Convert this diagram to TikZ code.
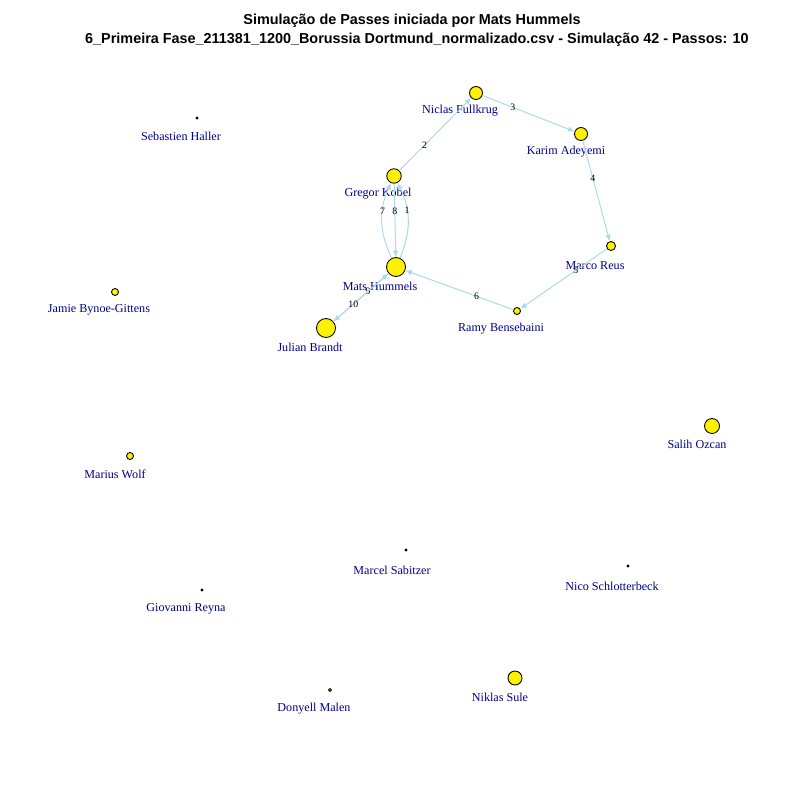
\documentclass[tikz,border=0pt]{standalone}
\usepackage{fontspec}
\setmainfont{Liberation Serif}
\newfontfamily\titlefont{Liberation Sans}
\usetikzlibrary{arrows.meta,calc}
\definecolor{namecol}{RGB}{0,0,139}
\definecolor{passcol}{RGB}{173,216,230}
\tikzset{
  player/.style={circle, draw, fill=yellow, line width=0.5pt, inner sep=0pt},
  pname/.style={font=\fontsize{6.9}{8}\selectfont, text=namecol, inner sep=0pt, yshift=-0.03cm},
  pass/.style={-{Latex[length=1.3mm, width=1.1mm]}, passcol, line width=0.55pt},
  passnum/.style={font=\fontsize{5.6}{6}\selectfont, text=black, inner sep=0pt},
  titletext/.style={font=\titlefont\bfseries\fontsize{8.2}{9}\selectfont, inner sep=0pt}
}

\begin{document}
\begin{tikzpicture}[x=0.02cm, y=-0.02cm]
      \useasboundingbox (0,0) rectangle (800,800);
      \node[titletext] (t1) at (412,21) {Simulação de Passes iniciada por Mats Hummels};
      \node[titletext] (t2) at (417,40) {6\_Primeira Fase\_211381\_1200\_Borussia Dortmund\_normalizado.csv - Simulação 42 - Passos: 10};
      % players
      \node[player, minimum size=0.26cm] (nf) at (476,93) {};
      \node[player, minimum size=0.26cm] (ka) at (581,134) {};
      \node[player, minimum size=0.29cm] (gk) at (394,176) {};
      \node[player, minimum size=0.18cm] (mr) at (611,246) {};
      \node[player, minimum size=0.38cm] (mh) at (396,267) {};
      \node[player, minimum size=0.14cm] (rb) at (517,311) {};
      \node[player, minimum size=0.38cm] (jb) at (326,328) {};
      \node[player, minimum size=0.04cm] (sh) at (197,118) {};
      \node[player, minimum size=0.14cm] (jg) at (115,292) {};
      \node[player, minimum size=0.14cm] (mw) at (130,456) {};
      \node[player, minimum size=0.30cm] (so) at (712,426) {};
      \node[player, minimum size=0.04cm] (ms) at (406,550) {};
      \node[player, minimum size=0.04cm] (ns) at (628,566) {};
      \node[player, minimum size=0.04cm] (gr) at (202,590) {};
      \node[player, minimum size=0.28cm] (su) at (515,678) {};
      \node[player, minimum size=0.06cm] (dm) at (330,690) {};
      % names
      \node[pname] (nf-l) at (460,109) {Niclas Fullkrug};
      \node[pname] (ka-l) at (566,150) {Karim Adeyemi};
      \node[pname] (gk-l) at (378,192) {Gregor Kobel};
      \node[pname] (mr-l) at (595,264) {Marco Reus};
      \node[pname] (mh-l) at (380,285) {Mats Hummels};
      \node[pname] (rb-l) at (501,327) {Ramy Bensebaini};
      \node[pname] (jb-l) at (310,346) {Julian Brandt};
      \node[pname] (sh-l) at (181,135) {Sebastien Haller};
      \node[pname] (jg-l) at (99,308) {Jamie Bynoe-Gittens};
      \node[pname] (mw-l) at (115,473) {Marius Wolf};
      \node[pname] (so-l) at (697,443) {Salih Ozcan};
      \node[pname] (ms-l) at (392,569) {Marcel Sabitzer};
      \node[pname] (ns-l) at (612,585) {Nico Schlotterbeck};
      \node[pname] (gr-l) at (186,607) {Giovanni Reyna};
      \node[pname] (su-l) at (500,696) {Niklas Sule};
      \node[pname] (dm-l) at (314,707) {Donyell Malen};
      % passes
      \draw[pass] (mh) to[bend right=25] node[passnum, pos=0.63] (p1) {1} (gk);
      \draw[pass] (gk) -- node[passnum, pos=0.35] (p2) {2} (nf);
      \draw[pass] (nf) -- node[passnum, pos=0.33] (p3) {3} (ka);
      \draw[pass] (ka) -- node[passnum, pos=0.37] (p4) {4} (mr);
      \draw[pass] (mr) -- node[passnum, pos=0.36] (p5) {5} (rb);
      \draw[pass] (rb) -- node[passnum, pos=0.34] (p6) {6} (mh);
      \draw[pass] (mh) to[bend left=25] node[passnum, pos=0.63] (p7) {7} (gk);
      \draw[pass] (gk) -- node[passnum, pos=0.37] (p8) {8} (mh);
      \draw[pass] (mh) -- node[passnum, pos=0.37] (p9) {9} (jb);
      \draw[pass] (jb) -- node[passnum, pos=0.36] (p10) {10} (mh);
\end{tikzpicture}
\end{document}
